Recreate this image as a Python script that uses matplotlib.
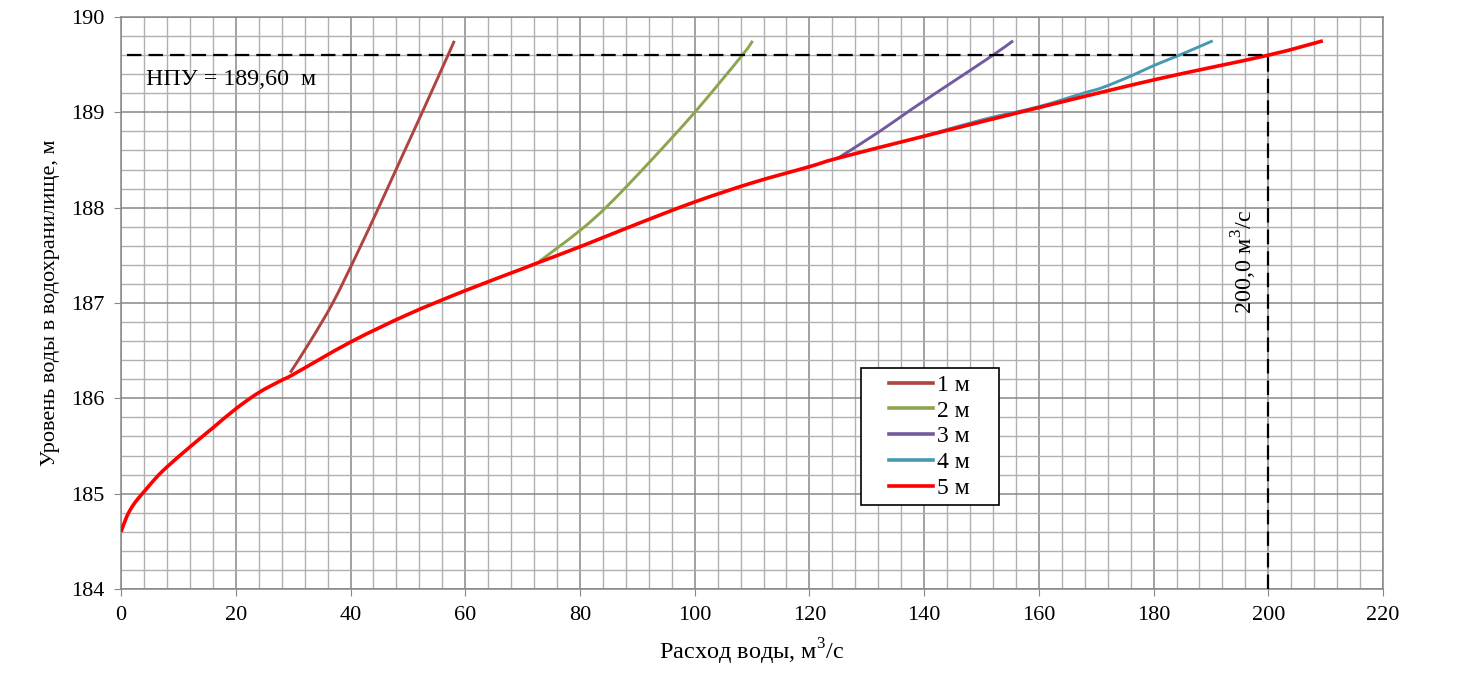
import numpy as np
import matplotlib
matplotlib.use('Agg')
import matplotlib.pyplot as plt
from matplotlib.ticker import MultipleLocator
from matplotlib.path import Path
from matplotlib.patches import PathPatch, Rectangle
from matplotlib.lines import Line2D

plt.rcParams['font.family'] = ['Liberation Serif', 'DejaVu Serif']
plt.rcParams['mathtext.fontset'] = 'custom'
plt.rcParams['mathtext.rm'] = 'Liberation Serif'

# curves: discharge (m3/s) vs reservoir level (m)
q_1m = [29.5, 33.0, 36.9, 41.0, 44.9, 48.7, 52.5, 57.0, 58.1]
h_1m = [186.27, 186.6, 187.0, 187.5, 188.0, 188.5, 189.0, 189.6, 189.75]

q_2m = [73.0, 80.0, 85.0, 92.0, 100.0, 108.3, 110.1]
h_2m = [187.44, 187.76, 188.03, 188.47, 189.0, 189.6, 189.75]

q_3m = [125.0, 132.0, 138.0, 145.0, 152.0, 155.5]
h_3m = [188.52, 188.79, 189.04, 189.32, 189.6, 189.75]

q_4m = [140.0, 150.0, 160.0, 167.7, 171.1, 176.0, 180.0, 184.5, 190.3]
h_4m = [188.75, 188.92, 189.06, 189.20, 189.26, 189.38, 189.49, 189.6, 189.75]

q_5m = [0, 1, 2, 3, 4, 6, 8, 12, 16, 20, 24, 28, 30, 40, 50, 60, 70, 73,
        80, 90, 100, 110, 120, 125, 140, 160, 180, 200, 209.5]
h_5m = [184.60, 184.76, 184.87, 184.95, 185.02, 185.16, 185.28, 185.49,
        185.69, 185.89, 186.06, 186.19, 186.25, 186.59, 186.88, 187.13,
        187.36, 187.43, 187.59, 187.83, 188.06, 188.26, 188.43, 188.52,
        188.75, 189.05, 189.34, 189.60, 189.75]

labels = ['1 м', '2 м', '3 м', '4 м', '5 м']
colors = ['#AE433F', '#8BA64E', '#725A9C', '#4798B0', '#FF0000']

npu = 189.60
q_npu = 200.0


def smooth_path(x, y):
    # Excel-like smoothed line: cubic Bezier through the points
    p = np.column_stack([x, y]).astype(float)
    ext = np.vstack([p[0], p, p[-1]])
    verts = [p[0]]
    codes = [Path.MOVETO]
    for i in range(len(p) - 1):
        a, b, c, d = ext[i], ext[i + 1], ext[i + 2], ext[i + 3]
        verts += [b + (c - a) / 6.0, c - (d - b) / 6.0, c]
        codes += [Path.CURVE4] * 3
    return Path(verts, codes)


fig = plt.figure(figsize=(14.69, 6.8), dpi=100)
ax = fig.add_axes([0.0824, 0.1338, 0.8591, 0.8412])

series = [(q_1m, h_1m), (q_2m, h_2m), (q_3m, h_3m), (q_4m, h_4m), (q_5m, h_5m)]
handles = []
for (q, h), lab, col in zip(series, labels, colors):
    lw = 2.6 if col == '#FF0000' else 2.1
    ax.add_patch(PathPatch(smooth_path(q, h), fill=False, edgecolor=col,
                           lw=lw, capstyle='butt', zorder=3))
    handles.append(Line2D([], [], color=col, lw=2.6, label=lab))

ax.plot([1, q_npu], [npu, npu], color='black', lw=1.6, dashes=(6.5, 3.2), zorder=4)
ax.plot([q_npu, q_npu], [184, npu], color='black', lw=1.6, dashes=(6.5, 3.2), zorder=4)

ax.text(4.4, 189.34, 'НПУ = 189,60  м', fontsize=17.3, ha='left', va='center')
ax.text(198.3, 187.43, '200,0 м$^3$/с', fontsize=17.5, ha='right', va='center',
        rotation=90)

ax.set_xlim(0, 220)
ax.set_ylim(184, 190)
ax.xaxis.set_major_locator(MultipleLocator(20))
ax.xaxis.set_minor_locator(MultipleLocator(4))
ax.yaxis.set_major_locator(MultipleLocator(1))
ax.yaxis.set_minor_locator(MultipleLocator(0.2))
ax.grid(which='major', color='#878787', lw=1.1, zorder=0)
ax.grid(which='minor', color='#B0B0B0', lw=1.0, zorder=0)
ax.set_axisbelow(True)
for s in ax.spines.values():
    s.set_color('#878787')
    s.set_linewidth(1.1)
ax.tick_params(which='major', direction='out', length=5, color='#878787',
               labelsize=16, pad=7)
ax.tick_params(which='minor', length=0)

ax.set_xlabel('Расход воды, м$^3$/с', fontsize=17.5, labelpad=9)
ax.set_ylabel('Уровень воды в водохранилище, м', fontsize=16, labelpad=8)

# legend frame drawn separately so it can be wider than its content
x0, y_top, w, hgt = 0.586, 0.386, 0.1094, 0.2395
ax.add_patch(Rectangle((x0, y_top - hgt), w, hgt, transform=ax.transAxes,
                       facecolor='white', edgecolor='black', lw=1.2, zorder=5))
leg = ax.legend(handles=handles, loc='center',
                bbox_to_anchor=(x0 + w / 2, y_top - hgt / 2), fontsize=17,
                frameon=False, handlelength=1.85, labelspacing=0.18,
                borderpad=0.0, handletextpad=0.2, borderaxespad=0)
leg.set_zorder(6)

fig.savefig('out.png', dpi=100)
